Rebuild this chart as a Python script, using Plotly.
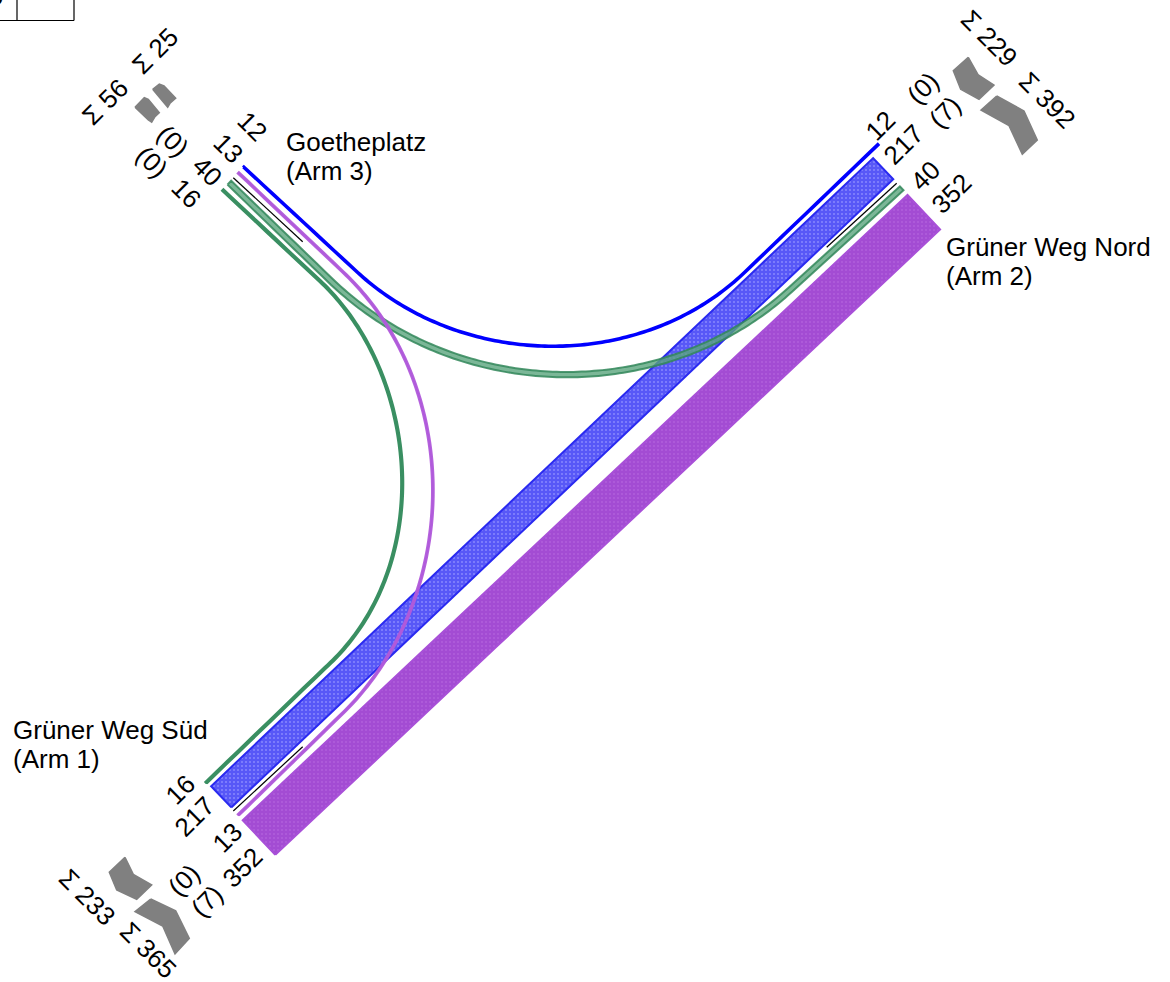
import numpy as np
import plotly.graph_objects as go

# ---- data
flow_names = ["Arm 1 to Arm 2 (car)", "Arm 1 to Arm 2 (truck)", "Arm 3 to Arm 2 (car)", "Arm 3 to Arm 2 (truck)", "Arm 1 to Arm 3 (truck)", "Arm 1 to Arm 3 (car)"]
flow_values = [217, 352, 12, 40, 16, 13]
arm1_labels = ["16", "217", "13", "352"]
arm2_labels = ["12", "217", "40", "352"]
arm3_labels = ["12", "13", "40", "16"]
paren_labels = ["(0)", "(0)", "(0)", "(7)", "(0)", "(7)"]
sum_labels = ["Σ 25", "Σ 56", "Σ 229", "Σ 392", "Σ 233", "Σ 365"]
arm_names = [["Goetheplatz", "(Arm 3)"], ["Grüner Weg Nord", "(Arm 2)"], ["Grüner Weg Süd", "(Arm 1)"]]

# ---- layout geometry (page pixels)
SCALE = 0.135
FONT = "Liberation Sans"
FS = 26
FS_NAME = 26
W, H = 1170, 982

BLUE, PURPLE, GREEN = "#2a2af0", "#a850d8", "#3a8f62"


def bezier(p0, p1, p2, p3, n=120):
    t = np.linspace(0, 1, n)[:, None]
    p0, p1, p2, p3 = map(np.array, (p0, p1, p2, p3))
    return (1-t)**3*p0 + 3*(1-t)**2*t*p1 + 3*(1-t)*t**2*p2 + t**3*p3


def ribbon(path, width):
    path = np.array(path, dtype=float)
    d = np.gradient(path, axis=0)
    d /= np.linalg.norm(d, axis=1, keepdims=True)
    n = np.c_[-d[:, 1], d[:, 0]]
    a = path + n*width/2
    b = path - n*width/2
    poly = np.vstack([a, b[::-1], a[:1]])
    return poly[:, 0], poly[:, 1]


def curve(start, c, end):
    return np.vstack([np.linspace(start, c[0], 12)[:-1], bezier(*c), np.linspace(c[3], end, 12)[1:]])


paths = [
    np.linspace((221.2, 796.8), (883.2, 168.7), 4),
    np.linspace((259.0, 837.5), (923.8, 212.2), 4),
    curve((243.3, 166.7), [(355, 270), (461, 370), (640, 372.6), (745, 272)], (878.3, 144.3)),
    curve((229.3, 182.7), [(333, 283), (462, 404), (665, 404), (790, 290)], (901.7, 188.3)),
    curve((206.0, 782.7), [(325, 668), (437, 567), (420, 375), (320, 281)], (222.7, 190.0)),
    curve((238.3, 815.0), [(345, 711), (462, 594), (463, 385), (343, 272)], (238.3, 172.7)),
]
styles = [
    dict(line=BLUE, fill="rgba(65,65,245,0.88)", fg="rgba(140,140,255,0.9)"),
    dict(line=PURPLE, fill="rgba(158,66,208,0.95)", fg="rgba(180,100,222,0.8)"),
    dict(line="#0000ff", fill="#0000ff", fg=None),
    dict(line="rgba(50,135,90,0.85)", fill="rgba(90,165,125,0.8)", fg=None),
    dict(line="#3a8f62", fill="#3a8f62", fg=None),
    dict(line="rgba(176,90,218,0.95)", fill="rgba(176,90,218,0.95)", fg=None),
]

separators = [
    ((233.3, 177.7), (302.7, 241.7)),
    ((896.7, 183.3), (826.7, 247.3)),
    ((233.3, 811.0), (302.7, 746.7)),
]

frame_lines = [((0, 20.5), (74, 20.5)), ((17, 0), (17, 20.5)), ((74, 0), (74, 20.5))]

arrows = [
    [(968.3, 57.3), (978.3, 75), (994, 85), (979, 99.3), (960.7, 89.3), (953.3, 70.7)],
    [(996.7, 96), (1024, 111), (1037.3, 140), (1022.3, 154.3), (1009, 125.7), (981, 110)],
    [(125, 857.3), (133.3, 874.3), (151.7, 885), (136.7, 899.3), (116.7, 890), (109.3, 872.3)],
    [(150.7, 899), (175.7, 910.7), (189.3, 938.3), (175, 954), (162.7, 926), (135, 911.7)],
    [(152.7, 89.3), (159.3, 84), (164, 86), (175.7, 98.3), (170, 103.3), (167.7, 107.3), (165, 104)],
    [(135, 107.3), (144.3, 97.7), (148.3, 99.3), (159.3, 112.7), (155, 116.7), (151.7, 122.3), (148.3, 120)],
]

fig = go.Figure()
for name, path, val, st in zip(flow_names, paths, flow_values, styles):
    x, y = ribbon(path, val*SCALE)
    kw = {}
    if st["fg"]:
        kw["fillpattern"] = dict(shape=".", size=4, solidity=0.2, fgcolor=st["fg"], bgcolor=st["fill"], fillmode="replace")
    fig.add_trace(go.Scatter(x=x, y=y, mode="lines", name=name, fill="toself", fillcolor=st["fill"],
                             line=dict(color=st["line"], width=2, simplify=False), hoverinfo="skip", **kw))
for a, b in separators + frame_lines:
    fig.add_trace(go.Scatter(x=[a[0], b[0]], y=[a[1], b[1]], mode="lines", line=dict(color="#000", width=1.2), hoverinfo="skip"))
for poly in arrows:
    xs, ys = zip(*(poly + poly[:1]))
    fig.add_trace(go.Scatter(x=xs, y=ys, mode="lines", fill="toself", fillcolor="#808080",
                             line=dict(color="#808080", width=1.5, simplify=False), hoverinfo="skip"))

ann = []


def label(text, x, y, angle):
    ann.append(dict(x=x, y=y, text=text, textangle=angle, showarrow=False, xanchor="center", yanchor="middle",
                    font=dict(family=FONT, size=FS, color="#000")))


for t, p in zip(arm3_labels, [(252, 126), (228, 148), (207, 171), (186, 193)]):
    label(t, *p, 45)
for t, p in zip(arm2_labels, [(880, 126), (903, 145), (925, 176), (951, 194)]):
    label(t, *p, -45)
for t, p in zip(arm1_labels, [(180, 790), (194, 817), (227, 838), (242, 868)]):
    label(t, *p, -45)
for t, p, an in zip(paren_labels,
                    [(173, 141), (152, 162), (923, 88), (945, 112), (184, 880), (207, 901)],
                    [45, 45, -45, -45, -45, -45]):
    label(t, *p, an)
for t, p, an in zip(sum_labels,
                    [(155, 51), (105, 102), (989, 38), (1047, 100), (87, 897), (148, 950)],
                    [-45, -45, 45, 45, 45, 45]):
    label(t, *p, an)
for lines, (x, y) in zip(arm_names, [(284, 142), (944, 247), (11, 730)]):
    for i, t in enumerate(lines):
        ann.append(dict(x=x, y=y+29*i, text=t, showarrow=False, xanchor="left", yanchor="middle",
                        font=dict(family=FONT, size=FS_NAME, color="#000")))
ann.append(dict(xref="x", yref="paper", x=5, y=1, yshift=4, text="0", showarrow=False, xanchor="right", yanchor="middle",
                font=dict(family=FONT, size=FS, color="#000")))

fig.update_layout(
    width=W, height=H, margin=dict(l=0, r=0, t=0, b=0), paper_bgcolor="white", plot_bgcolor="white",
    showlegend=False, annotations=ann,
    xaxis=dict(range=[0, W], visible=False, fixedrange=True),
    yaxis=dict(range=[H, 0], visible=False, fixedrange=True),
)
fig.write_html("out.html", config=dict(displayModeBar=False),
               post_script="document.body.style.margin='0';document.body.style.overflow='hidden';")
